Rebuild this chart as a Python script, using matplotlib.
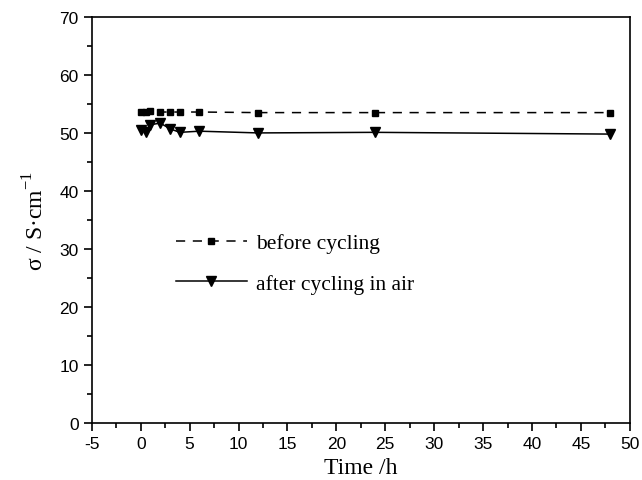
import matplotlib
matplotlib.use('Agg')
import matplotlib.pyplot as plt
from matplotlib.ticker import MultipleLocator

# data
time_before = [0, 0.5, 1, 2, 3, 4, 6, 12, 24, 48]
sigma_before = [53.6, 53.6, 53.7, 53.6, 53.6, 53.6, 53.6, 53.5, 53.5, 53.5]

time_after = [0, 0.5, 1, 2, 3, 4, 6, 12, 24, 48]
sigma_after = [50.5, 50.2, 51.4, 51.7, 50.7, 50.1, 50.3, 50.0, 50.1, 49.8]

tick_font = 'Liberation Sans'
label_font = 'Liberation Serif'
plt.rcParams['axes.unicode_minus'] = False

fig = plt.figure(figsize=(6.42, 4.81), dpi=100)
ax = fig.add_axes([0.143, 0.118, 0.838, 0.845])

ax.plot(time_before, sigma_before, color='black', linestyle=(0, (6, 5)), linewidth=1.1,
        marker='s', markersize=4.8, label='before cycling')
ax.plot(time_after, sigma_after, color='black', linestyle='-', linewidth=1.1,
        marker='v', markersize=6.5, label='after cycling in air')

ax.set_xlim(-5, 50)
ax.set_ylim(0, 70)
ax.xaxis.set_major_locator(MultipleLocator(5))
ax.xaxis.set_minor_locator(MultipleLocator(2.5))
ax.yaxis.set_major_locator(MultipleLocator(10))
ax.yaxis.set_minor_locator(MultipleLocator(5))
ax.tick_params(which='both', direction='out', top=False, right=False)
ax.tick_params(which='major', length=6, width=1.2, labelsize=12.5)
ax.tick_params(which='minor', length=3.5, width=1.2)
for lab in ax.get_xticklabels() + ax.get_yticklabels():
    lab.set_fontfamily(tick_font)
for sp in ax.spines.values():
    sp.set_linewidth(1.2)

ax.set_xlabel('Time /h', fontsize=17, fontfamily=label_font, labelpad=4)
ax.set_ylabel(r'σ / S·cm$^{\mathregular{-1}}$', fontsize=17, fontfamily=label_font, labelpad=8)

leg = ax.legend(loc='upper left', bbox_to_anchor=(0.12, 0.515), frameon=False,
                prop={'family': label_font, 'size': 15.5}, handlelength=3.3,
                labelspacing=0.95, handletextpad=0.45)

plt.savefig('out.png', dpi=100)
